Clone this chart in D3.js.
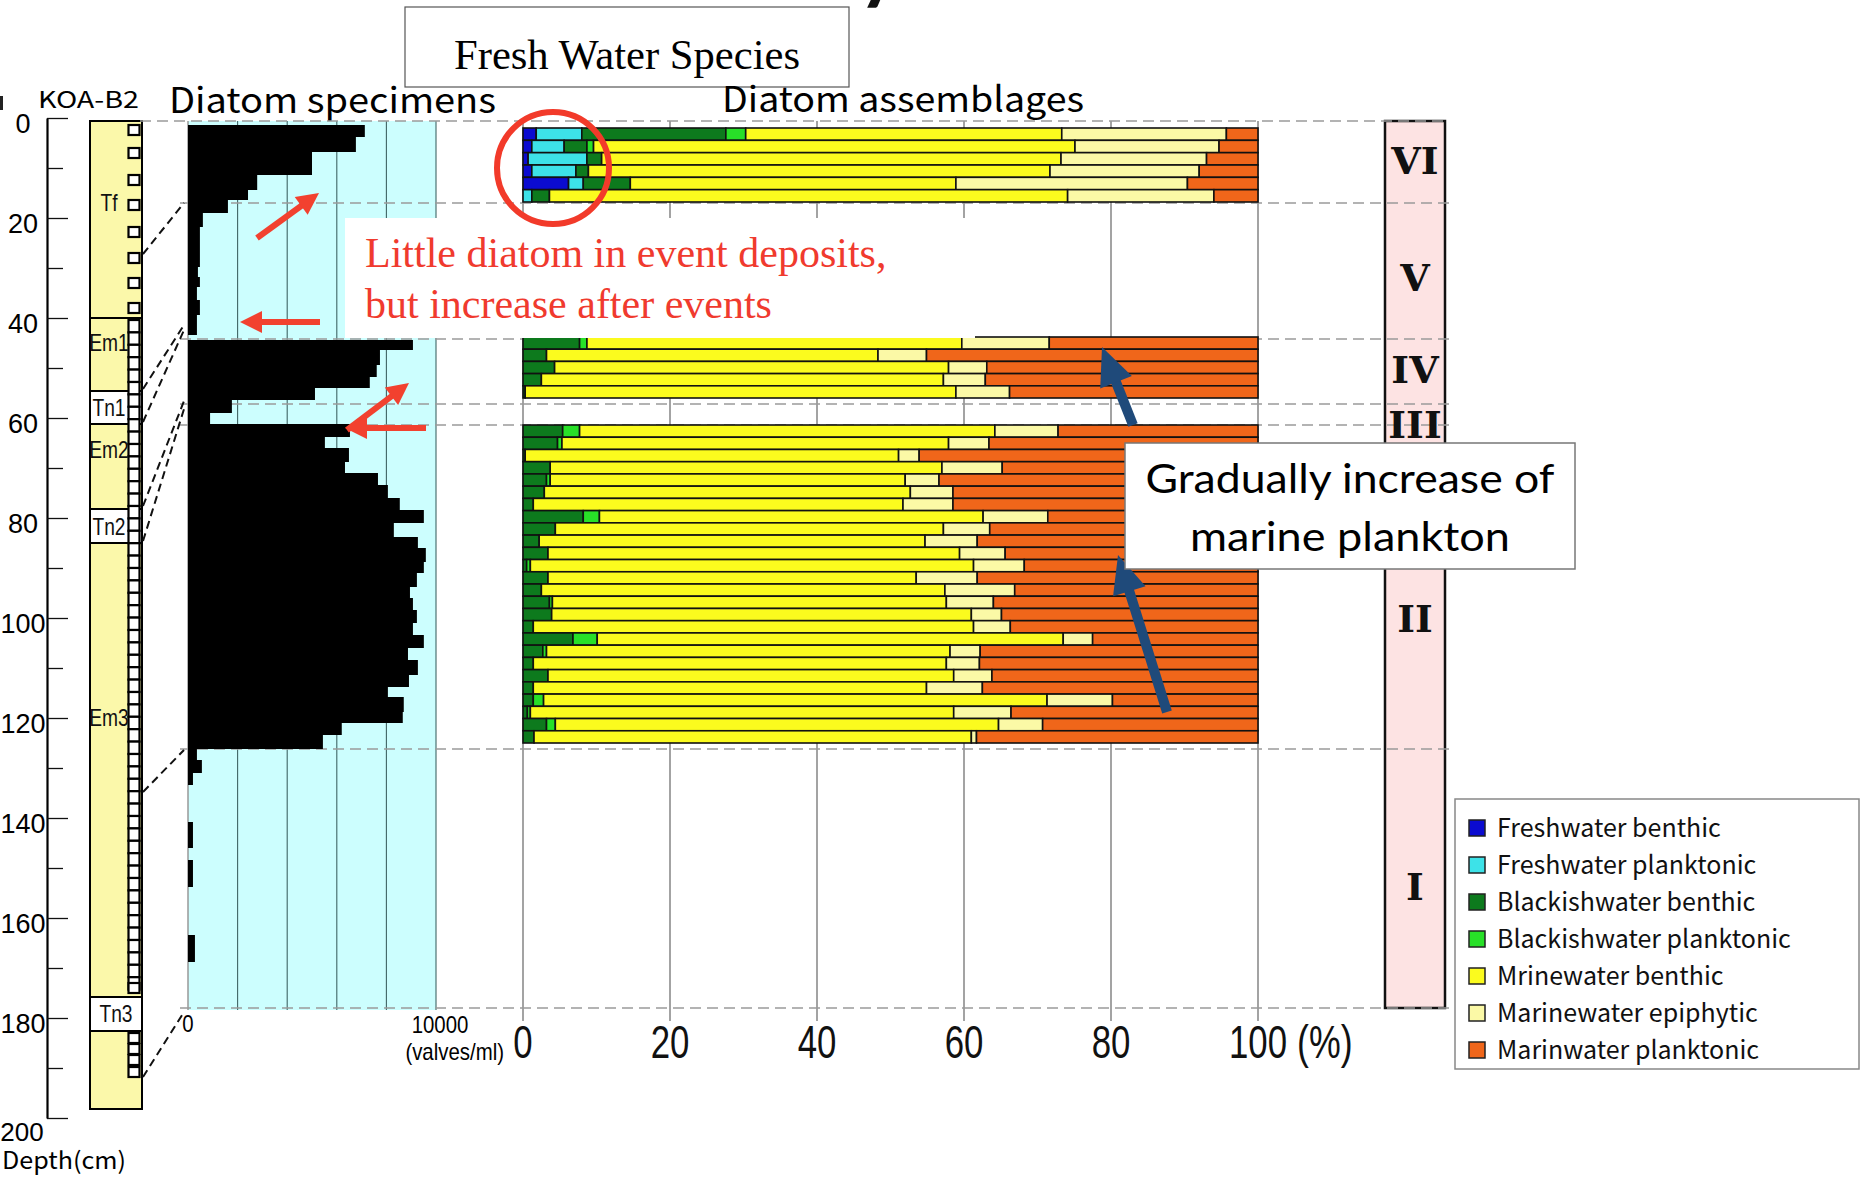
<!DOCTYPE html>
<html>
<head>
<meta charset="utf-8">
<script src="https://cdn.jsdelivr.net/npm/d3@7"></script>
<style>
  body { margin: 0; background: #fff; }
  svg { display: block; }
</style>
</head>
<body>
<svg id="chart" width="1864" height="1177"></svg>
<script>
// ---------------- data ----------------
const classNames = ["Freshwater benthic", "Freshwater planktonic", "Blackishwater benthic",
  "Blackishwater planktonic", "Mrinewater benthic", "Marinewater epiphytic", "Marinwater planktonic"];
const classColors = ["#0b0bd0", "#3de2e8", "#0d7a1d", "#28e028", "#fbfb1e", "#fbf9a6", "#f0661a"];

// assemblage composition (%) of each sample, top to bottom, in class order
const zoneVIRows = [
  [1.8, 6.2, 19.6, 2.7, 43.0, 22.4, 4.3],
  [1.2, 4.4, 3.1, 0.9, 65.5, 19.6, 5.3],
  [0.7, 8.0, 2.0, 0.0, 62.5, 19.8, 7.0],
  [1.2, 6.0, 1.7, 0.0, 62.8, 20.3, 8.0],
  [6.2, 2.0, 6.4, 0.0, 44.3, 31.5, 9.6],
  [0.0, 1.2, 2.4, 0.0, 70.5, 19.9, 6.0]
];
const zoneIVRows = [
  [0, 0, 7.7, 1.0, 51.0, 11.9, 28.4],
  [0, 0, 3.2, 0.0, 45.1, 6.6, 45.1],
  [0, 0, 4.3, 0.0, 53.6, 5.2, 36.9],
  [0, 0, 2.5, 0.0, 54.7, 5.7, 37.1],
  [0, 0, 0.3, 0.0, 58.6, 7.3, 33.8]
];
const zoneIIRows = [
  [0, 0, 5.4, 2.3, 56.5, 8.6, 27.2],
  [0, 0, 4.7, 0.6, 52.6, 5.5, 36.6],
  [0, 0, 0.3, 0.0, 50.8, 2.8, 46.1],
  [0, 0, 3.7, 0.0, 53.3, 8.2, 34.8],
  [0, 0, 3.2, 0.5, 48.3, 4.6, 43.4],
  [0, 0, 2.9, 0.0, 49.8, 5.8, 41.5],
  [0, 0, 1.4, 0.0, 50.3, 6.8, 41.5],
  [0, 0, 8.2, 2.2, 52.2, 8.8, 28.6],
  [0, 0, 4.4, 0.0, 52.8, 6.3, 36.5],
  [0, 0, 2.2, 0.0, 52.5, 7.1, 38.2],
  [0, 0, 3.4, 0.0, 56.0, 6.2, 34.4],
  [0, 0, 0.5, 0.5, 60.3, 6.9, 31.8],
  [0, 0, 3.4, 0.0, 50.1, 8.3, 38.2],
  [0, 0, 2.5, 0.0, 54.9, 9.5, 33.1],
  [0, 0, 3.6, 0.4, 53.6, 6.4, 36.0],
  [0, 0, 3.9, 0.0, 57.1, 4.1, 34.9],
  [0, 0, 1.4, 0.0, 59.9, 5.0, 33.7],
  [0, 0, 6.8, 3.3, 63.4, 4.0, 22.5],
  [0, 0, 2.7, 0.5, 54.9, 4.1, 37.8],
  [0, 0, 1.4, 0.0, 56.2, 4.5, 37.9],
  [0, 0, 3.4, 0.0, 55.2, 5.2, 36.2],
  [0, 0, 1.4, 0.0, 53.5, 7.6, 37.5],
  [0, 0, 1.4, 1.4, 68.5, 8.9, 19.8],
  [0, 0, 0.6, 0.4, 57.6, 7.8, 33.6],
  [0, 0, 3.2, 1.2, 60.3, 6.0, 29.3],
  [0, 0, 1.5, 0.0, 59.5, 0.7, 38.3]
];
// plotted depth interval covered by each block of samples
const sampleGroups = [
  { top: 1.4, bottom: 16.2, rows: zoneVIRows },
  { top: 43.2, bottom: 55.4, rows: zoneIVRows },
  { top: 60.8, bottom: 124.4, rows: zoneIIRows }
];

// diatom specimens: [top, bottom, valves/ml] on the plotted depth scale
const specimenSteps = [
  [0.8, 3.2, 7130], [3.2, 6.2, 6770], [6.2, 10.8, 5000], [10.8, 13.8, 2790], [13.8, 15.8, 2420],
  [15.8, 18.4, 1610], [18.4, 21.2, 600], [21.2, 29.2, 480], [29.2, 31.2, 400], [31.2, 33.2, 480],
  [33.2, 35.8, 360], [35.8, 38.8, 480], [38.8, 42.8, 360],
  [43.8, 45.8, 9070], [45.8, 48.8, 7740], [48.8, 51.2, 7610], [51.2, 53.4, 7330], [53.4, 55.8, 5120],
  [55.8, 58.4, 1770], [58.4, 60.6, 890],
  [60.6, 63.2, 6530], [63.2, 65.4, 5520], [65.4, 68.2, 6490], [68.2, 70.4, 6330], [70.4, 72.8, 7660],
  [72.8, 75.4, 8060], [75.4, 77.8, 8540], [77.8, 80.4, 9510], [80.4, 83.2, 8300], [83.2, 85.4, 9270],
  [85.4, 88.2, 9590], [88.2, 90.4, 9510], [90.4, 93.2, 9230], [93.2, 95.4, 8950], [95.4, 97.8, 9070],
  [97.8, 100.4, 9230], [100.4, 102.8, 9070], [102.8, 105.4, 9510], [105.4, 107.8, 8870], [107.8, 110.8, 9270],
  [110.8, 113.2, 8910], [113.2, 115.2, 8060], [115.2, 118.2, 8700], [118.2, 120.4, 8660], [120.4, 122.8, 6200],
  [122.8, 125.6, 5440],
  [125.6, 127.8, 360], [127.8, 130.4, 560], [130.4, 132.8, 200],
  [140.2, 145.4, 200], [147.8, 153.2, 200], [162.8, 168.2, 280]
];

// diatom zones on the plotted depth scale
const zoneNames = ["VI", "V", "IV", "III", "II", "I"];
const zoneBounds = [0, 16.4, 43.6, 56.6, 60.8, 125.6, 177.4];
const zoneLabelAt = [7.8, 31.2, 49.6, 60.6, 99.4, 153];

// core KOA-B2 lithology (depth in cm)
const lithUnits = [
  { name: "Tf", top: 0.6, bottom: 40, kind: "mud", boxed: false, labelAt: 17 },
  { name: "Em1", top: 40, bottom: 54.6, kind: "mud", boxed: true, labelAt: 45 },
  { name: "Tn1", top: 54.6, bottom: 61.2, kind: "sand", boxed: true, labelAt: 58 },
  { name: "Em2", top: 61.2, bottom: 78.2, kind: "mud", boxed: false, labelAt: 66.4 },
  { name: "Tn2", top: 78.2, bottom: 85, kind: "sand", boxed: true, labelAt: 81.8 },
  { name: "Em3", top: 85, bottom: 175.8, kind: "mud", boxed: false, labelAt: 120 },
  { name: "Tn3", top: 175.8, bottom: 182.6, kind: "sand", boxed: true, labelAt: 179.2 },
  { name: "", top: 182.6, bottom: 198.2, kind: "mud", boxed: false, labelAt: 190 }
];
// sample positions (cm): isolated samples and a continuous sampling run
const singleSamples = [1.4, 6.0, 11.4, 16.4, 21.8, 27.0, 32.0, 37.0, 173.0, 183.0, 185.2, 187.4, 189.8];
const samplingRun = { top: 40.4, bottom: 172.0, step: 2.48 };

// core depth -> plotted depth correlation lines
const correlations = [[27.2, 16.4], [54.2, 40.8], [60.8, 41.8], [77.6, 56.0], [84.6, 57.6], [134.8, 125.8], [191.8, 178.2]];

const depthMajor = [0, 20, 40, 60, 80, 100, 120, 140, 160, 180, 200];
const depthMinor = [10, 30, 50, 70, 90, 110, 130, 150, 170, 190];
const depthLabels = ["0", "20", "40", "60", "80", "100", "120", "140", "160", "180"];
const pctTicks = [0, 20, 40, 60, 80, 100];
const specGrid = [2000, 4000, 6000, 8000, 10000];

// ---------------- scales ----------------
const svg = d3.select("#chart");
const depthY = d3.scaleLinear().domain([0, 200]).range([118, 1118]);
const panelY = d3.scaleLinear().domain([0, 177.4]).range([121, 1008]);
const specX = d3.scaleLinear().domain([0, 10000]).range([188, 436]);
const pctX = d3.scaleLinear().domain([0, 100]).range([523, 1258]);

const GOTHIC = "'Noto Sans CJK JP', 'Noto Sans', sans-serif";
const SANS = "'Liberation Sans', Arial, sans-serif";
const SERIF = "'Liberation Serif', 'Times New Roman', serif";

function condense(sel, f) {
  sel.each(function () {
    const w = this.getComputedTextLength();
    this.setAttribute("textLength", w * f);
    this.setAttribute("lengthAdjust", "spacingAndGlyphs");
  });
  return sel;
}
function fitWidth(sel, w) {
  sel.attr("textLength", w).attr("lengthAdjust", "spacingAndGlyphs");
  return sel;
}
function arrow(g, x1, y1, x2, y2, color, width, headLen, headW) {
  const dx = x2 - x1, dy = y2 - y1, L = Math.hypot(dx, dy);
  const ux = dx / L, uy = dy / L, px = -uy, py = ux;
  const bx = x2 - ux * headLen, by = y2 - uy * headLen;
  g.append("line").attr("x1", x1).attr("y1", y1).attr("x2", bx + ux * 2).attr("y2", by + uy * 2)
    .attr("stroke", color).attr("stroke-width", width);
  g.append("polygon")
    .attr("points", [[x2, y2], [bx + px * headW / 2, by + py * headW / 2], [bx - px * headW / 2, by - py * headW / 2]].map(p => p.join(",")).join(" "))
    .attr("fill", color);
}

// ---------------- slide remnants ----------------
svg.append("text").attr("x", 858).attr("y", -6).attr("font-family", "Lato, sans-serif")
  .attr("font-weight", "bold").attr("font-size", 80).attr("fill", "#111").text("y");
svg.append("rect").attr("x", 0).attr("y", 96).attr("width", 3).attr("height", 14).attr("fill", "#222");

// ---------------- titles ----------------
svg.append("rect").attr("x", 405).attr("y", 7).attr("width", 444).attr("height", 80)
  .attr("fill", "#fff").attr("stroke", "#555").attr("stroke-width", 1.2);
fitWidth(svg.append("text").attr("x", 627).attr("y", 69).attr("text-anchor", "middle")
  .attr("font-family", SERIF).attr("font-size", 42).attr("fill", "#000").text("Fresh Water Species"), 346);

fitWidth(svg.append("text").attr("x", 38).attr("y", 108).attr("font-family", GOTHIC)
  .attr("font-size", 23).text("KOA-B2"), 101);
fitWidth(svg.append("text").attr("x", 169).attr("y", 113).attr("font-family", GOTHIC)
  .attr("font-size", 35).text("Diatom specimens"), 327);
fitWidth(svg.append("text").attr("x", 722).attr("y", 112).attr("font-family", GOTHIC)
  .attr("font-size", 35).text("Diatom assemblages"), 362);

// ---------------- depth axis ----------------
const axisG = svg.append("g").attr("transform", "translate(47,0)");
axisG.call(d3.axisRight(depthY).tickValues(depthMajor).tickSize(21).tickSizeOuter(0).tickFormat(""));
const minorG = svg.append("g").attr("transform", "translate(47,0)");
minorG.call(d3.axisRight(depthY).tickValues(depthMinor).tickSize(16).tickSizeOuter(0).tickFormat(""));
minorG.select(".domain").remove();
svg.selectAll(".tick line").attr("stroke", "#111").attr("stroke-width", 1.3);
axisG.select(".domain").attr("stroke", "#000").attr("stroke-width", 2.2);

svg.append("g").selectAll("text").data(depthLabels).join("text")
  .attr("x", 23).attr("y", d => depthY(+d) + 15).attr("text-anchor", "middle")
  .attr("font-family", SANS).attr("font-size", 27).attr("fill", "#000").text(d => d);
svg.append("text").attr("x", 22).attr("y", 1141).attr("text-anchor", "middle")
  .attr("font-family", SANS).attr("font-size", 26).text("200");
fitWidth(svg.append("text").attr("x", 2).attr("y", 1169)
  .attr("font-family", GOTHIC).attr("font-size", 24).text("Depth(cm)"), 124);

// ---------------- lithology column ----------------
const colX = 90, colW = 52;
const lithG = svg.append("g");
lithG.append("rect").attr("x", colX).attr("y", depthY(0.6)).attr("width", colW)
  .attr("height", depthY(198.2) - depthY(0.6)).attr("fill", "#fbf8aa").attr("stroke", "#000").attr("stroke-width", 2);
lithUnits.filter(u => u.boxed).forEach(u => {
  lithG.append("rect").attr("x", colX).attr("y", depthY(u.top)).attr("width", colW)
    .attr("height", depthY(u.bottom) - depthY(u.top))
    .attr("fill", u.kind === "sand" ? "#fff" : "#fbf8aa").attr("stroke", "#000").attr("stroke-width", 2);
});
// sample squares
const runSamples = d3.range(samplingRun.top, samplingRun.bottom, samplingRun.step);
lithG.selectAll("rect.run").data(runSamples).join("rect").attr("class", "run")
  .attr("x", 128.5).attr("y", d => depthY(d)).attr("width", 11).attr("height", depthY(samplingRun.step) - depthY(0))
  .attr("fill", "#fff").attr("stroke", "#000").attr("stroke-width", 2.2);
lithG.selectAll("rect.single").data(singleSamples).join("rect").attr("class", "single")
  .attr("x", 128.5).attr("y", d => depthY(d)).attr("width", 11).attr("height", 10)
  .attr("fill", "#fff").attr("stroke", "#000").attr("stroke-width", 2.2);
// Tn3 sits over its samples
const tn3 = lithUnits.find(u => u.name === "Tn3");
lithG.append("rect").attr("x", colX).attr("y", depthY(tn3.top)).attr("width", colW)
  .attr("height", depthY(tn3.bottom) - depthY(tn3.top)).attr("fill", "#fff").attr("stroke", "#000").attr("stroke-width", 2);
lithUnits.filter(u => u.name).forEach(u => {
  const t = lithG.append("text").attr("x", u.name === "Tn3" ? 116 : 109).attr("y", depthY(u.labelAt) + 8)
    .attr("text-anchor", "middle").attr("font-family", SANS).attr("font-size", 24).attr("fill", "#111").text(u.name);
  condense(t, 0.8);
});

// ---------------- specimen panel background ----------------
svg.append("rect").attr("x", specX(0)).attr("y", panelY(0)).attr("width", specX(10000) - specX(0))
  .attr("height", panelY(177.8) - panelY(0)).attr("fill", "#ccfefe");
svg.append("g").selectAll("line").data(specGrid).join("line")
  .attr("x1", d => specX(d)).attr("x2", d => specX(d)).attr("y1", panelY(0)).attr("y2", panelY(177.8))
  .attr("stroke", "#3f6464").attr("stroke-width", 1.1);
svg.append("line").attr("x1", specX(0)).attr("x2", specX(0)).attr("y1", panelY(0)).attr("y2", panelY(177.8))
  .attr("stroke", "#999").attr("stroke-width", 1.5);

// ---------------- zone column ----------------
svg.append("rect").attr("x", 1385).attr("y", panelY(0)).attr("width", 60)
  .attr("height", panelY(177.4) - panelY(0)).attr("fill", "#fde3e3").attr("stroke", "#111").attr("stroke-width", 2.5);

// ---------------- percent grid ----------------
svg.append("g").selectAll("line").data(pctTicks).join("line")
  .attr("x1", d => pctX(d)).attr("x2", d => pctX(d)).attr("y1", panelY(0)).attr("y2", 1021)
  .attr("stroke", "#666").attr("stroke-width", 1.2);

// ---------------- zone boundaries ----------------
svg.append("g").selectAll("line").data(zoneBounds).join("line")
  .attr("x1", (d, i) => i === 0 ? 140 : 180).attr("x2", 1449)
  .attr("y1", d => panelY(d)).attr("y2", d => panelY(d))
  .attr("stroke", "#9a9a9a").attr("stroke-width", 1.6).attr("stroke-dasharray", "11,6");

// ---------------- specimen bars ----------------
svg.append("g").selectAll("rect").data(specimenSteps).join("rect")
  .attr("x", specX(0)).attr("y", d => panelY(d[0])).attr("width", d => specX(d[2]) - specX(0))
  .attr("height", d => panelY(d[1]) - panelY(d[0])).attr("fill", "#000");

// ---------------- assemblage bars ----------------
const barsG = svg.append("g");
sampleGroups.forEach(grp => {
  const h = (grp.bottom - grp.top) / grp.rows.length;
  grp.rows.forEach((row, ri) => {
    const top = grp.top + ri * h;
    let cum = 0;
    const segs = row.map((v, ci) => { const s = { x0: cum, x1: cum + v, c: ci }; cum += v; return s; })
      .filter(s => s.x1 - s.x0 > 0);
    barsG.append("g").selectAll("rect").data(segs).join("rect")
      .attr("x", s => pctX(s.x0)).attr("width", s => pctX(Math.min(100, s.x1)) - pctX(s.x0))
      .attr("y", panelY(top)).attr("height", panelY(top + h) - panelY(top))
      .attr("fill", s => classColors[s.c]).attr("stroke", "#111").attr("stroke-width", 1.6);
  });
});

// ---------------- correlation lines ----------------
svg.append("g").selectAll("line").data(correlations).join("line")
  .attr("x1", 143).attr("y1", d => depthY(d[0])).attr("x2", 184).attr("y2", d => panelY(d[1]))
  .attr("stroke", "#111").attr("stroke-width", 2).attr("stroke-dasharray", "8,5");

// ---------------- zone numerals ----------------
svg.append("g").selectAll("text").data(zoneNames).join("text")
  .attr("x", 1415).attr("y", (d, i) => panelY(zoneLabelAt[i]) + 14).attr("text-anchor", "middle")
  .attr("font-family", "'DejaVu Serif', serif").attr("font-weight", "bold").attr("font-size", 38)
  .attr("fill", "#111").text(d => d);

// ---------------- axis labels ----------------
const pctLab = svg.append("g").selectAll("text").data(pctTicks).join("text")
  .attr("x", d => pctX(d)).attr("y", 1058).attr("text-anchor", "middle")
  .attr("font-family", SANS).attr("font-size", 47).attr("fill", "#111").text(d => d);
condense(pctLab, 0.74);
condense(svg.append("text").attr("x", 1297).attr("y", 1058).attr("font-family", SANS)
  .attr("font-size", 47).attr("fill", "#111").text("(%)"), 0.76);
condense(svg.append("text").attr("x", specX(0)).attr("y", 1032).attr("text-anchor", "middle")
  .attr("font-family", SANS).attr("font-size", 24).text("0"), 0.85);
condense(svg.append("text").attr("x", 440).attr("y", 1033).attr("text-anchor", "middle")
  .attr("font-family", SANS).attr("font-size", 24).text("10000"), 0.85);
condense(svg.append("text").attr("x", 504).attr("y", 1060).attr("text-anchor", "end")
  .attr("font-family", SANS).attr("font-size", 24).text("(valves/ml)"), 0.85);

// ---------------- legend ----------------
const legG = svg.append("g");
legG.append("rect").attr("x", 1455).attr("y", 799).attr("width", 404).attr("height", 270)
  .attr("fill", "#fff").attr("stroke", "#888").attr("stroke-width", 1.5);
const legItems = legG.selectAll("g.item").data(classNames).join("g").attr("class", "item")
  .attr("transform", (d, i) => `translate(1469,${828 + i * 37})`);
legItems.append("rect").attr("x", 0).attr("y", -8).attr("width", 16).attr("height", 16)
  .attr("fill", (d, i) => classColors[i]).attr("stroke", "#222").attr("stroke-width", 1.5);
legItems.append("text").attr("x", 28).attr("y", 9).attr("font-family", GOTHIC)
  .attr("font-size", 25).attr("fill", "#111").text(d => d);

// ---------------- annotations ----------------
const ann = svg.append("g");
ann.append("rect").attr("x", 345).attr("y", 218).attr("width", 630).attr("height", 120).attr("fill", "#fff");
ann.append("text").attr("x", 365).attr("y", 267).attr("font-family", SERIF).attr("font-size", 42)
  .attr("fill", "#f03a2e").text("Little diatom in event deposits,");
ann.append("text").attr("x", 365).attr("y", 318).attr("font-family", SERIF).attr("font-size", 42)
  .attr("fill", "#f03a2e").text("but increase after events");
const red = "#f2412f";
arrow(ann, 257, 238, 319, 193, red, 6, 22, 22);
arrow(ann, 320, 322, 240, 322, red, 6, 22, 22);
arrow(ann, 347, 430, 409, 383, red, 6, 22, 22);
arrow(ann, 426, 428, 345, 428, red, 6, 22, 22);
ann.append("circle").attr("cx", 553).attr("cy", 168).attr("r", 56)
  .attr("fill", "none").attr("stroke", "#f23a2a").attr("stroke-width", 6);

const blue = "#1f4a7a";
arrow(ann, 1133, 425, 1102, 347, blue, 10, 38, 34);
arrow(ann, 1167, 712, 1118, 555, blue, 10, 38, 34);
ann.append("rect").attr("x", 1125).attr("y", 443).attr("width", 450).attr("height", 126)
  .attr("fill", "#fff").attr("stroke", "#777").attr("stroke-width", 1.5);
fitWidth(ann.append("text").attr("x", 1350).attr("y", 493).attr("text-anchor", "middle")
  .attr("font-family", "Lato, 'Open Sans', sans-serif").attr("font-size", 41).attr("fill", "#000")
  .text("Gradually increase of"), 409);
fitWidth(ann.append("text").attr("x", 1350).attr("y", 551).attr("text-anchor", "middle")
  .attr("font-family", "Lato, 'Open Sans', sans-serif").attr("font-size", 41).attr("fill", "#000")
  .text("marine plankton"), 320);
</script>
</body>
</html>
